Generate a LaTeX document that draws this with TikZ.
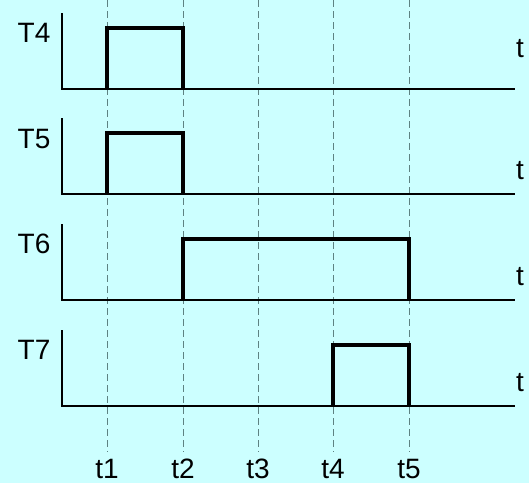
\documentclass[tikz,border=0pt]{standalone}
\usepackage{fontspec}
\setmainfont{Liberation Sans}
\usepackage{tikz}
\usetikzlibrary{positioning}
\definecolor{paper}{HTML}{CCFFFF}
\definecolor{marker}{HTML}{5E8282}

\tikzset{
  axis/.style={line width=2pt, black},
  pulse/.style={line width=4.2pt, black},
  tick/.style={line width=0.9pt, marker, dash pattern=on 7pt off 4pt},
  lbl/.style={font=\fontsize{28}{30}\selectfont, inner sep=0pt}
}

\begin{document}
\begin{tikzpicture}[x=1pt, y=-1pt]
% --- Background ---
\fill[paper] (0,0) rectangle (529,483);
\useasboundingbox (0,0) rectangle (529,483);

% --- Time markers ---
\draw[tick] (107,0) -- (107,452);
\draw[tick] (183,0) -- (183,452);
\draw[tick] (258,0) -- (258,452);
\draw[tick] (333,0) -- (333,452);
\draw[tick] (409,0) -- (409,452);
\node[lbl] (t1) at (107,469) {t1};
\node[lbl] (t2) at (183,469) {t2};
\node[lbl] (t3) at (258,469) {t3};
\node[lbl] (t4) at (333,469) {t4};
\node[lbl] (t5) at (409,469) {t5};

% --- T4 ---
\begin{scope}[shift={(0,89)}]
  \draw[axis] (62,-76) -- (62,0) -- (515,0);
  \draw[pulse] (107,0) -- (107,-61) -- (183,-61) -- (183,0);
  \node[lbl] (lblT4) at (34,-56) {T4};
  \node[lbl] (axT4) at (520,-40) {t};
\end{scope}

% --- T5 ---
\begin{scope}[shift={(0,194)}]
  \draw[axis] (62,-76) -- (62,0) -- (515,0);
  \draw[pulse] (107,0) -- (107,-61) -- (183,-61) -- (183,0);
  \node[lbl] (lblT5) at (34,-55) {T5};
  \node[lbl] (axT5) at (520,-23) {t};
\end{scope}

% --- T6 ---
\begin{scope}[shift={(0,300)}]
  \draw[axis] (62,-76) -- (62,0) -- (515,0);
  \draw[pulse] (183,0) -- (183,-61) -- (409,-61) -- (409,0);
  \node[lbl] (lblT6) at (34,-56) {T6};
  \node[lbl] (axT6) at (520,-23) {t};
\end{scope}

% --- T7 ---
\begin{scope}[shift={(0,406)}]
  \draw[axis] (62,-76) -- (62,0) -- (515,0);
  \draw[pulse] (333,0) -- (333,-61) -- (409,-61) -- (409,0);
  \node[lbl] (lblT7) at (34,-56) {T7};
  \node[lbl] (axT7) at (520,-23) {t};
\end{scope}
\end{tikzpicture}
\end{document}
